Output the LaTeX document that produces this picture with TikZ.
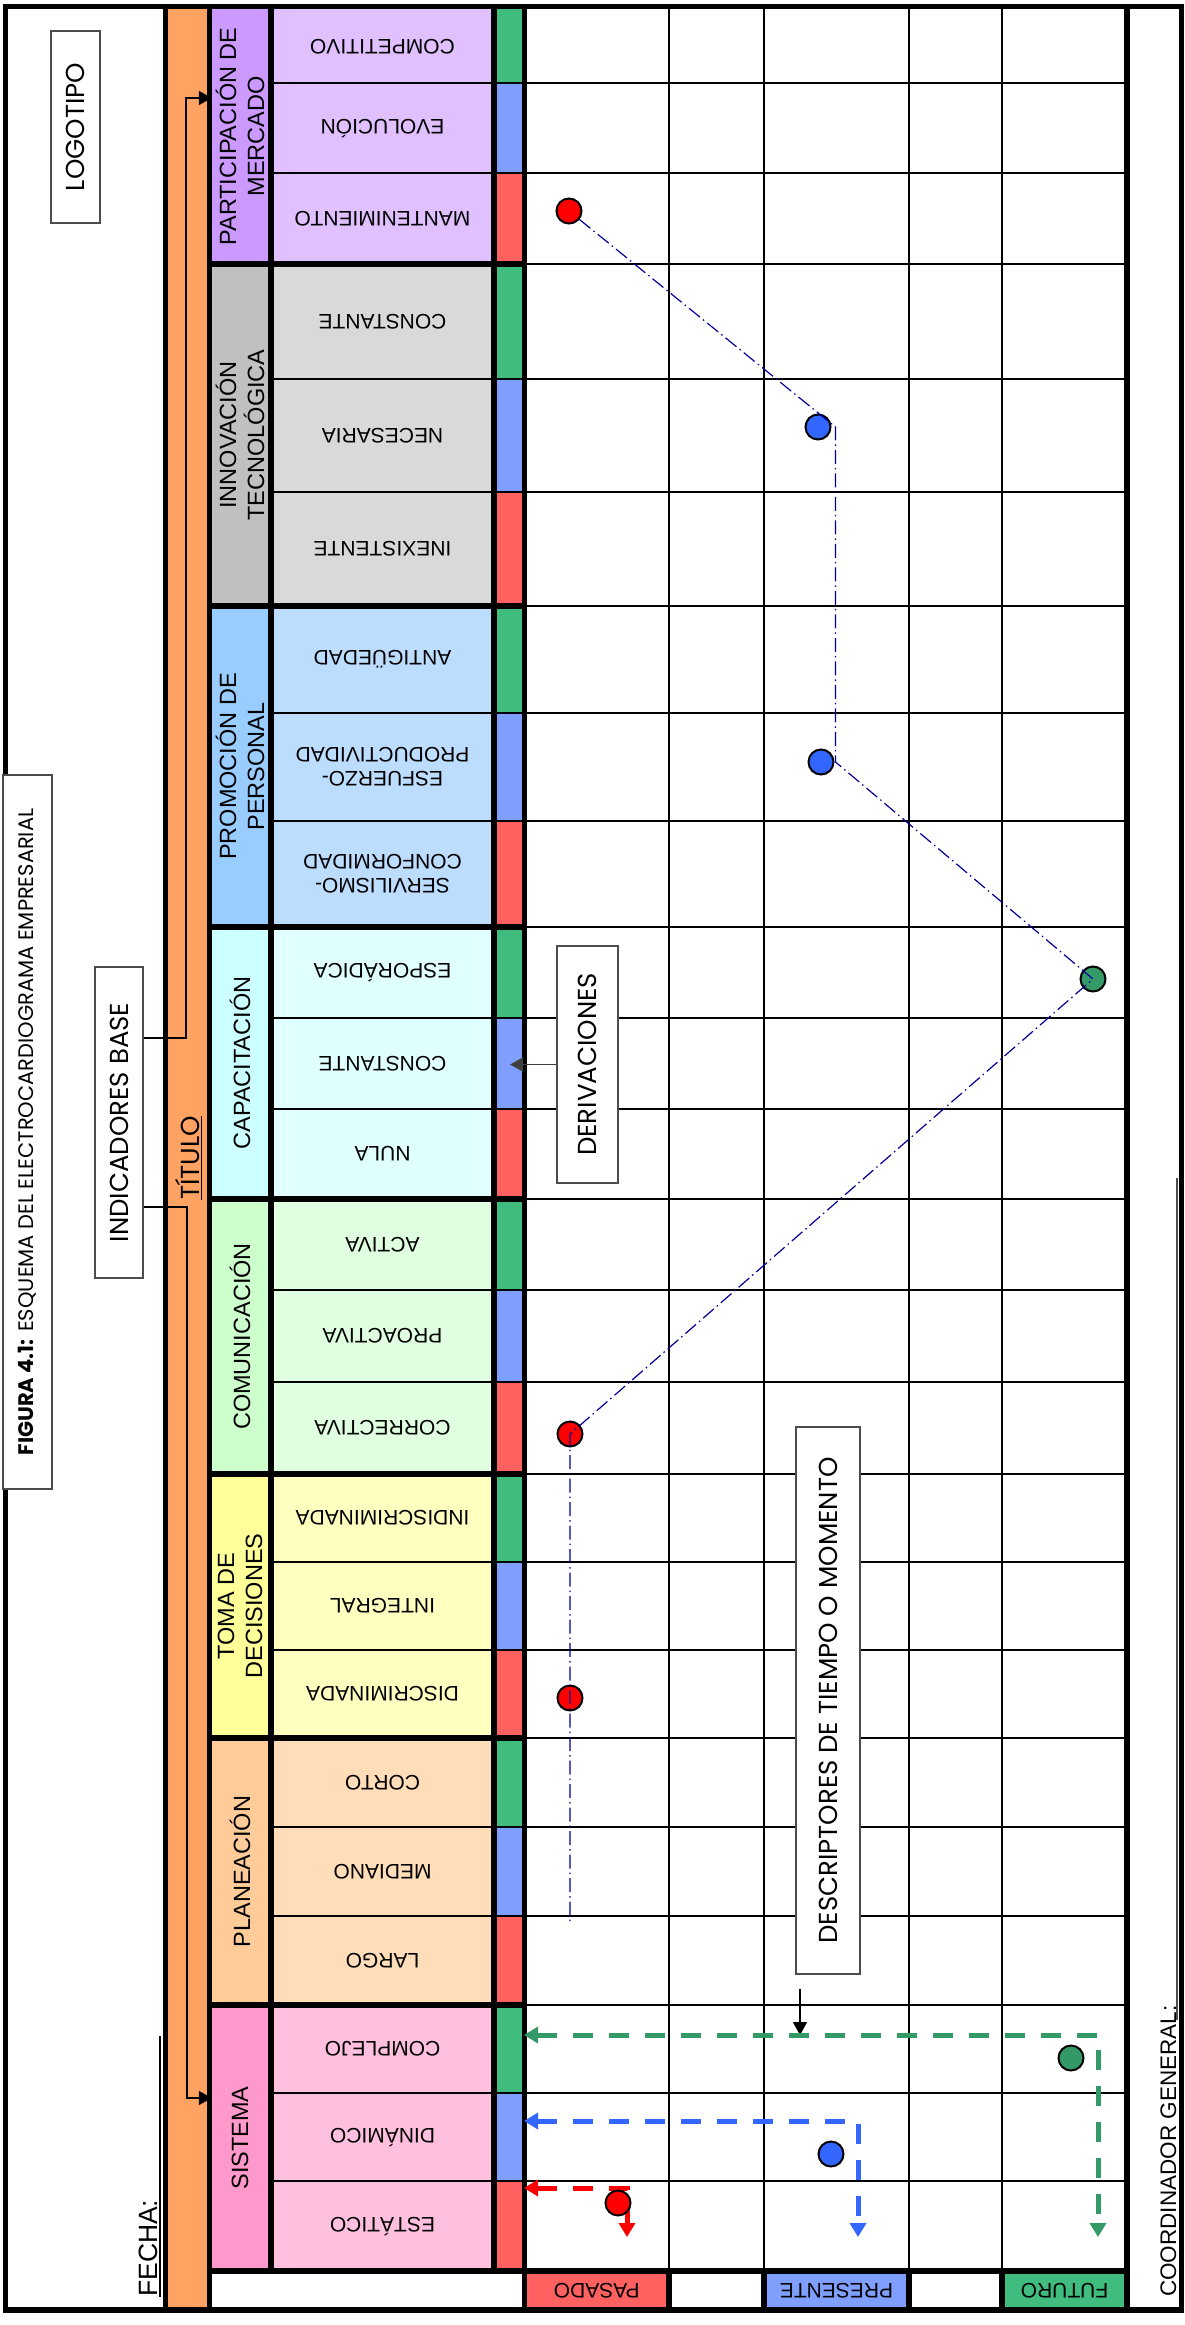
\documentclass[tikz,border=0pt]{standalone}
\usepackage{fontspec}
\setmainfont{Liberation Sans}
\newfontfamily\geo{Poppins}
\usetikzlibrary{arrows.meta}

\definecolor{orangeT}{HTML}{FFA262}
\definecolor{cPartH}{HTML}{CC99FF}\definecolor{cPartD}{HTML}{E0C0FF}
\definecolor{cInnoH}{HTML}{C0C0C0}\definecolor{cInnoD}{HTML}{D9D9D9}
\definecolor{cPromH}{HTML}{99CCFF}\definecolor{cPromD}{HTML}{BDDDFF}
\definecolor{cCapaH}{HTML}{CCFFFF}\definecolor{cCapaD}{HTML}{E0FFFF}
\definecolor{cComuH}{HTML}{CCFFCC}\definecolor{cComuD}{HTML}{E0FFE0}
\definecolor{cTomaH}{HTML}{FFFF99}\definecolor{cTomaD}{HTML}{FFFFC0}
\definecolor{cPlanH}{HTML}{FFCC99}\definecolor{cPlanD}{HTML}{FFDDB9}
\definecolor{cSistH}{HTML}{FF99CC}\definecolor{cSistD}{HTML}{FFC0E0}
\definecolor{stripG}{HTML}{40BD7E}
\definecolor{stripB}{HTML}{7F9FFF}
\definecolor{stripR}{HTML}{FF6060}
\definecolor{ptR}{HTML}{FF0000}
\definecolor{ptB}{HTML}{3366FF}
\definecolor{ptG}{HTML}{339966}
\definecolor{traceblue}{HTML}{000099}

\begin{document}
\begin{tikzpicture}[x=1pt,y=-1pt,
  hdr/.style={rotate=90, align=center, font=\fontsize{23.5}{28}\selectfont,
    minimum height=56pt, inner sep=0pt},
  der/.style={rotate=180, align=center, font=\fontsize{21}{24}\selectfont, inner sep=0pt},
  tag/.style={rotate=90, draw=black!70, line width=1.8pt, fill=white, inner sep=0pt,
    font=\geo\fontsize{26}{30}\selectfont},
  conn/.style={line width=1.5pt, -{Triangle[length=13pt,width=14pt]}},
  bullet/.style={circle, draw=black, line width=2pt, minimum size=25pt, inner sep=0pt},
  trace/.style={draw=traceblue, line width=1.2pt,
    dash pattern=on 14pt off 4pt on 1.5pt off 4pt},
  flow/.style={line width=5pt, dash pattern=on 20pt off 16pt,
    {Triangle[length=14pt,width=16pt]}-{Triangle[length=14pt,width=16pt]}},
  thick line/.style={line width=5.5pt},
  thin line/.style={line width=2pt}
]
\useasboundingbox (0,0) rectangle (1185,2325);

% title strip
\fill[orangeT] (165.5,6.5) rectangle (209.5,2310);

% category blocks: header, derivation rows and the green/blue/red strip
\foreach \ya/\yb/\yc/\yd/\hc/\dc in {
  9/83.5/173/264/cPartH/cPartD,
  264/379/492/606/cInnoH/cInnoD,
  606/713/820.5/927/cPromH/cPromD,
  927/1018/1108.5/1199/cCapaH/cCapaD,
  1199/1290/1382/1474/cComuH/cComuD,
  1474/1562/1650/1738/cTomaH/cTomaD,
  1738/1827/1916/2005/cPlanH/cPlanD,
  2005/2093/2181/2271/cSistH/cSistD}{
  \fill[\hc] (209.5,\ya) rectangle (271,\yd);
  \fill[\dc] (271,\ya) rectangle (494,\yd);
  \fill[stripG] (494,\ya) rectangle (524.5,\yb);
  \fill[stripB] (494,\yb) rectangle (524.5,\yc);
  \fill[stripR] (494,\yc) rectangle (524.5,\yd);
}

% time row
\fill[stripR] (524.5,2271) rectangle (669,2310);
\fill[stripB] (764,2271) rectangle (909,2310);
\fill[stripG] (1002,2271) rectangle (1127,2310);

% grid
\foreach \y in {83.5,173,379,492,713,820.5,1018,1108.5,1290,1382,1562,1650,1827,1916,2093,2181}
  \draw[thin line] (271,\y) -- (1127,\y);
\foreach \y in {264,606,927,1199,1474,1738,2005}{
  \draw[thin line] (524.5,\y) -- (1127,\y);
  \draw[thick line] (209.5,\y) -- (524.5,\y);
}
\foreach \x in {669,764,909,1002}{
  \draw[thin line] (\x,6.5) -- (\x,2271);
  \draw[thick line] (\x,2271) -- (\x,2310);
}
\draw[thick line] (271,6.5) -- (271,2271);
\draw[thick line] (494,6.5) -- (494,2271);
\draw[thick line] (524.5,6.5) -- (524.5,2310);
\draw[thick line] (1127,6.5) -- (1127,2310);
\draw[thick line] (209.5,2271) -- (1127,2271);
\draw[thick line] (165.5,6.5) -- (165.5,2310);
\draw[thick line] (209.5,6.5) -- (209.5,2310);
\draw[thick line] (5.5,6.5) rectangle (1181.5,2310);

% category headers
\node[hdr, minimum width=255pt] (hPart) at (240,136.5) {PARTICIPACIÓN DE\\MERCADO};
\node[hdr, minimum width=342pt] (hInno) at (240,435) {INNOVACIÓN\\TECNOLÓGICA};
\node[hdr, minimum width=321pt] (hProm) at (240,766.5) {PROMOCIÓN DE\\PERSONAL};
\node[hdr, minimum width=272pt] (hCapa) at (240,1063) {CAPACITACIÓN};
\node[hdr, minimum width=275pt] (hComu) at (240,1336.5) {COMUNICACIÓN};
\node[hdr, minimum width=264pt] (hToma) at (240,1606) {TOMA DE\\DECISIONES};
\node[hdr, minimum width=267pt] (hPlan) at (240,1871.5) {PLANEACIÓN};
\node[hdr, minimum width=266pt] (hSist) at (240,2138) {SISTEMA};

% derivations
\node[der] (dComp) at (382.5,46.25) {COMPETITIVO};
\node[der] (dEvol) at (382.5,128.25) {EVOLUCIÓN};
\node[der] (dMant) at (382.5,218.5) {MANTENIMIENTO};
\node[der] (dCons) at (382.5,321.5) {CONSTANTE};
\node[der] (dNece) at (382.5,435.5) {NECESARIA};
\node[der] (dInex) at (382.5,549) {INEXISTENTE};
\node[der] (dAnti) at (382.5,659.5) {ANTIGÜEDAD};
\node[der] (dEsfu) at (382.5,766.75) {ESFUERZO-\\PRODUCTIVIDAD};
\node[der] (dServ) at (382.5,873.75) {SERVILISMO-\\CONFORMIDAD};
\node[der] (dEspo) at (382.5,972.5) {ESPORÁDICA};
\node[der] (dCont) at (382.5,1063.25) {CONSTANTE};
\node[der] (dNula) at (382.5,1153.75) {NULA};
\node[der] (dActi) at (382.5,1244.5) {ACTIVA};
\node[der] (dProa) at (382.5,1336) {PROACTIVA};
\node[der] (dCorr) at (382.5,1428) {CORRECTIVA};
\node[der] (dIndi) at (382.5,1518) {INDISCRIMINADA};
\node[der] (dInte) at (382.5,1606) {INTEGRAL};
\node[der] (dDisc) at (382.5,1694) {DISCRIMINADA};
\node[der] (dCort) at (382.5,1782.5) {CORTO};
\node[der] (dMedi) at (382.5,1871.5) {MEDIANO};
\node[der] (dLarg) at (382.5,1960.5) {LARGO};
\node[der] (dComl) at (382.5,2049) {COMPLEJO};
\node[der] (dDina) at (382.5,2137) {DINÁMICO};
\node[der] (dEsta) at (382.5,2226) {ESTÁTICO};

% time labels
\node[der] (tPas) at (596.75,2290.5) {PASADO};
\node[der] (tPre) at (836.5,2290.5) {PRESENTE};
\node[der] (tFut) at (1064.5,2290.5) {FUTURO};

% side labels
\node[tag, minimum width=192pt, minimum height=49pt] (logo) at (75.5,127) {LOGOTIPO};
\node[tag, minimum width=311pt, minimum height=48pt] (indic) at (119,1122.5) {INDICADORES BASE};
\node[tag, minimum width=714pt, minimum height=49pt,
  font=\geo\fontsize{21}{24}\selectfont] (fig) at (27.5,1132)
  {\textbf{FIGURA 4.1:} ESQUEMA DEL ELECTROCARDIOGRAMA EMPRESARIAL};
\node[rotate=90, inner sep=0pt, font=\geo\fontsize{26}{30}\selectfont] (titulo) at (189,1158) {\underline{TÍTULO}};
\node[rotate=90, anchor=base west, inner sep=0pt, font=\fontsize{26.5}{30}\selectfont] (fecha) at (157,2297) {FECHA:};
\draw[line width=2pt] (159.5,2297) -- (159.5,2036);
\node[rotate=90, anchor=base west, inner sep=0pt, font=\fontsize{22.5}{26}\selectfont] (coord) at (1176,2297) {COORDINADOR GENERAL:};
\draw[line width=2pt, black!70] (1176.5,2020) -- (1176.5,1178);

% links from the base indicators
\draw[conn] ([yshift=84.5pt]indic.south) -- ++(42,0) |- ([yshift=38.5pt]hPart.north);
\draw[conn] ([yshift=-84.5pt]indic.south) -- ++(43,0) |- ([yshift=40pt]hSist.north);

% derivations callout
\node[tag, minimum width=237pt, minimum height=61pt] (deriv) at (587.5,1064.5) {DERIVACIONES};
\coordinate (capaTip) at (510,1064.5);
\draw[conn, draw=black!75] (deriv.north) -- (capaTip);

% time descriptors callout
\node[tag, minimum width=547pt, minimum height=64pt] (desc) at (828,1700.5) {DESCRIPTORES DE TIEMPO O MOMENTO};
\coordinate (descTip) at (800,2035);
\draw[conn] ([xshift=-28pt,yshift=-14pt]desc.west) -- (descTip);

% trace of the company
\node[bullet, fill=ptR] (r1) at (569,211) {};
\node[bullet, fill=ptB] (b2) at (818,427) {};
\node[bullet, fill=ptB] (b3) at (821,762) {};
\node[bullet, fill=ptG] (g4) at (1093,979) {};
\node[bullet, fill=ptR] (r5) at (570,1434) {};
\node[bullet, fill=ptR] (r6) at (570,1698) {};
\coordinate (traceEnd) at (570,1922);
\draw[trace] (r1) -- ([xshift=4pt]b2.east) -- ([xshift=1pt]b3.east) -- (g4.center)
  -- (r5.center) -- (r6.center) -- (traceEnd);

% past / present / future flows
\coordinate (gL) at (524,2035); \coordinate (gD) at (1098,2237);
\coordinate (bL) at (524,2121); \coordinate (bD) at (858,2237);
\coordinate (rL) at (524,2188); \coordinate (rD) at (627,2237);
\draw[flow, draw=ptG] (gL) -| (gD);
\draw[flow, draw=ptB] (bL) -| (bD);
\draw[flow, draw=ptR] (rL) -| (rD);
\node[bullet, fill=ptG] (gNow) at (1071,2058) {};
\node[bullet, fill=ptB] (bNow) at (831,2154) {};
\node[bullet, fill=ptR] (rNow) at (618,2203) {};
\end{tikzpicture}
\end{document}
